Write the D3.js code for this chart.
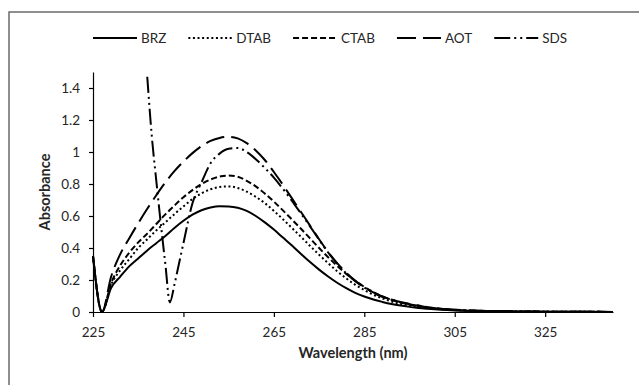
<!DOCTYPE html>
<html>
<head>
<meta charset="utf-8">
<script src="https://cdn.jsdelivr.net/npm/d3@7/dist/d3.min.js"></script>
<style>
  body { margin: 0; background: #fff; }
  svg { display: block; font-family: Lato, "Open Sans", sans-serif; }
</style>
</head>
<body>
<div id="chart"></div>
<script>
// wavelengths (nm) shared by BRZ, DTAB, CTAB, AOT
const wavelength = [225, 227, 229, 231, 233, 235, 237, 239, 241, 243, 245, 247, 249, 251, 253, 255, 257, 259, 261, 263,
  265, 267, 269, 271, 273, 275, 277, 279, 281, 283, 285, 287, 289, 291, 293, 295, 297, 299, 302, 305, 310, 315, 320, 325, 330, 335, 340];

const brz = [0.35, 0, 0.15, 0.22, 0.285, 0.335, 0.385, 0.43, 0.475, 0.525, 0.57, 0.608, 0.636, 0.653, 0.661, 0.66, 0.652, 0.632, 0.6, 0.56,
  0.515, 0.465, 0.415, 0.363, 0.312, 0.265, 0.222, 0.183, 0.149, 0.12, 0.097, 0.078, 0.063, 0.05, 0.04, 0.032, 0.025, 0.02, 0.014, 0.01, 0.006, 0.004, 0.003, 0.002, 0.001, 0.001, 0];

const dtab = [0.35, 0, 0.17, 0.26, 0.33, 0.40, 0.455, 0.51, 0.56, 0.612, 0.66, 0.706, 0.742, 0.767, 0.781, 0.785, 0.775, 0.752, 0.72, 0.68,
  0.632, 0.58, 0.525, 0.47, 0.413, 0.358, 0.305, 0.255, 0.21, 0.17, 0.137, 0.108, 0.085, 0.066, 0.051, 0.04, 0.032, 0.025, 0.017, 0.012, 0.007, 0.005, 0.003, 0.002, 0.001, 0.001, 0];

const ctab = [0.35, 0, 0.18, 0.29, 0.37, 0.435, 0.49, 0.55, 0.61, 0.665, 0.717, 0.762, 0.8, 0.828, 0.846, 0.853, 0.845, 0.82, 0.785, 0.74,
  0.69, 0.635, 0.578, 0.52, 0.46, 0.40, 0.342, 0.288, 0.238, 0.195, 0.157, 0.125, 0.098, 0.077, 0.06, 0.046, 0.036, 0.028, 0.02, 0.014, 0.008, 0.005, 0.003, 0.002, 0.001, 0.001, 0];

const aot = [0.35, 0, 0.22, 0.36, 0.46, 0.555, 0.645, 0.73, 0.81, 0.88, 0.94, 0.993, 1.037, 1.069, 1.088, 1.095, 1.085, 1.055, 1.01, 0.95,
  0.875, 0.795, 0.71, 0.625, 0.54, 0.455, 0.375, 0.305, 0.245, 0.195, 0.155, 0.122, 0.097, 0.078, 0.062, 0.05, 0.04, 0.03, 0.02, 0.014, 0.008, 0.005, 0.003, 0.002, 0.001, 0.001, 0];

// SDS is recorded from 237 nm
const sdsWavelength = [237, 238, 239, 240, 241, 242, 243, 244, 245, 247, 249, 251, 253, 255, 257, 259, 261, 263, 265, 267,
  269, 271, 273, 275, 277, 279, 281, 283, 285, 287, 289, 291, 293, 295, 297, 299, 302, 305, 310, 315, 320, 325, 330, 335, 340];
const sds = [1.47, 1.1, 0.82, 0.55, 0.3, 0.06, 0.17, 0.3, 0.43, 0.68, 0.81, 0.93, 0.99, 1.02, 1.025, 1.0, 0.955, 0.9, 0.84, 0.77,
  0.695, 0.615, 0.535, 0.452, 0.372, 0.302, 0.242, 0.193, 0.153, 0.12, 0.095, 0.077, 0.061, 0.049, 0.039, 0.03, 0.02, 0.014, 0.008, 0.005, 0.003, 0.002, 0.001, 0.001, 0];

const seriesNames = ["BRZ", "DTAB", "CTAB", "AOT", "SDS"];
const xTicks = [225, 245, 265, 285, 305, 325];
const yTicks = [0, 0.2, 0.4, 0.6, 0.8, 1, 1.2, 1.4];

const series = [
  {name: "BRZ", x: wavelength, y: brz},
  {name: "DTAB", x: wavelength, y: dtab},
  {name: "CTAB", x: wavelength, y: ctab},
  {name: "AOT", x: wavelength, y: aot},
  {name: "SDS", x: sdsWavelength, y: sds}
];

const dashes = {
  BRZ: null,
  DTAB: "2 2.6",
  CTAB: "6 3",
  AOT: "19 7",
  SDS: "16 4 2 4 2 4"
};

const width = 639, height = 385;
const margin = {top: 72, right: 26, bottom: 73, left: 93};
const textColor = "#262626";

const svg = d3.select("#chart")
  .append("svg")
  .attr("width", width)
  .attr("height", height);

// outer chart border (runs off the picture on the right and bottom)
svg.append("rect")
  .attr("x", 9)
  .attr("y", 12)
  .attr("width", 700)
  .attr("height", 400)
  .attr("fill", "none")
  .attr("stroke", "#6b6b6b")
  .attr("stroke-width", 1.5);

const xScale = d3.scaleLinear()
  .domain([225, 340])
  .range([margin.left, width - margin.right]);

const yScale = d3.scaleLinear()
  .domain([0, 1.5])
  .range([height - margin.bottom, margin.top]);

// axes
const xAxis = svg.append("g")
  .attr("transform", "translate(0," + yScale(0) + ")")
  .call(d3.axisBottom(xScale).tickValues(xTicks).tickSize(5).tickSizeOuter(0).tickPadding(10));

const yAxis = svg.append("g")
  .attr("transform", "translate(" + xScale(225) + ",0)")
  .call(d3.axisLeft(yScale).tickValues(yTicks).tickSize(4).tickSizeOuter(0).tickPadding(9)
    .tickFormat(d => String(+d.toFixed(1))));

[xAxis, yAxis].forEach(ax => {
  ax.select(".domain").attr("stroke", "#000").attr("stroke-width", 1.2);
  ax.selectAll(".tick line").attr("stroke", "#000").attr("stroke-width", 1.2);
  ax.selectAll(".tick text")
    .attr("fill", textColor)
    .style("font-size", "13.5px")
    .style("font-family", "Lato, sans-serif");
});

// axis titles
svg.append("text")
  .attr("x", (xScale.range()[0] + xScale.range()[1]) / 2)
  .attr("y", 358)
  .attr("text-anchor", "middle")
  .attr("fill", textColor)
  .style("font-size", "14.5px")
  .style("font-weight", "bold")
  .text("Wavelength (nm)");

svg.append("text")
  .attr("transform", "translate(50," + (yScale.range()[0] + yScale.range()[1]) / 2 + ") rotate(-90)")
  .attr("text-anchor", "middle")
  .attr("fill", textColor)
  .style("font-size", "14.5px")
  .style("font-weight", "bold")
  .text("Absorbance");

// lines
const line = d3.line()
  .x(d => xScale(d[0]))
  .y(d => yScale(d[1]))
  .curve(d3.curveMonotoneX);

series.forEach(s => {
  const pts = s.x.map((w, i) => [w, s.y[i]]);
  svg.append("path")
    .datum(pts)
    .attr("d", line)
    .attr("fill", "none")
    .attr("stroke", "#000")
    .attr("stroke-width", 2)
    .attr("stroke-dasharray", dashes[s.name]);
});

// legend
const legend = svg.append("g").attr("transform", "translate(93,38)");
let lx = 0;
seriesNames.forEach(name => {
  const item = legend.append("g").attr("transform", "translate(" + lx + ",0)");
  item.append("line")
    .attr("x1", 0).attr("x2", 44)
    .attr("y1", 0).attr("y2", 0)
    .attr("stroke", "#000")
    .attr("stroke-width", 2)
    .attr("stroke-dasharray", dashes[name]);
  const t = item.append("text")
    .attr("x", 48)
    .attr("y", 4.5)
    .attr("fill", textColor)
    .style("font-size", "13.5px")
    .text(name);
  lx += 48 + t.node().getComputedTextLength() + 22;
});
</script>
</body>
</html>
